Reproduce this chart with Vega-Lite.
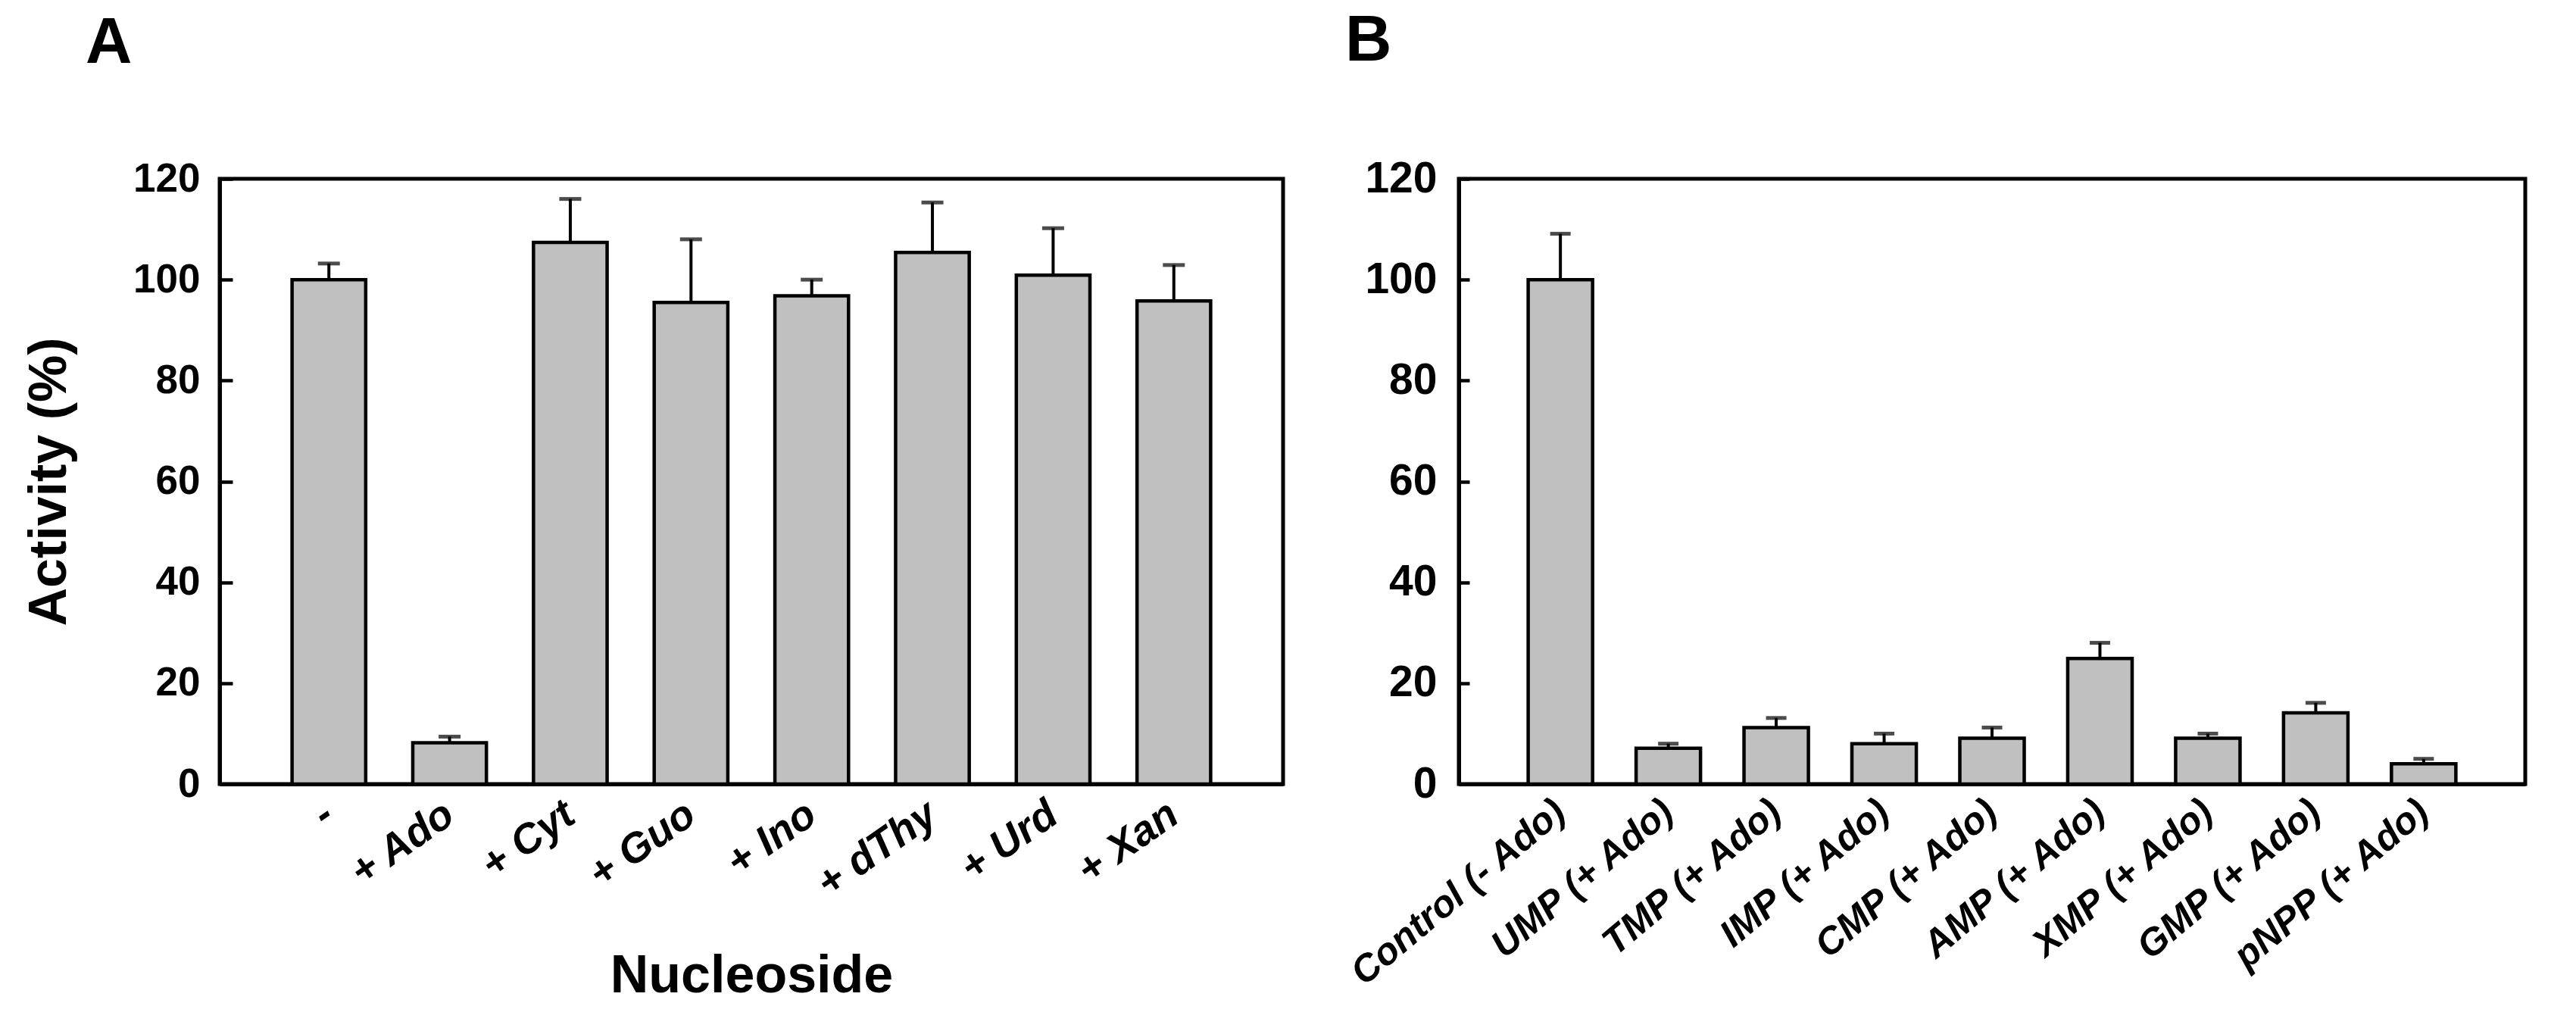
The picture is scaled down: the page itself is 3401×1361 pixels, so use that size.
{
  "$schema": "https://vega.github.io/schema/vega-lite/v6.json",
  "background": "white",
  "padding": {"left": 28, "top": 9, "right": 5, "bottom": 5},
  "bounds": "flush",
  "spacing": 232,
  "datasets": {
    "panelA": [
      {"treatment": "-", "activity": 100.0, "upper": 103.2},
      {"treatment": "+ Ado", "activity": 8.2, "upper": 9.4},
      {"treatment": "+ Cyt", "activity": 107.4, "upper": 116.0},
      {"treatment": "+ Guo", "activity": 95.5, "upper": 108.0},
      {"treatment": "+ Ino", "activity": 96.8, "upper": 100.0},
      {"treatment": "+ dThy", "activity": 105.4, "upper": 115.3},
      {"treatment": "+ Urd", "activity": 100.9, "upper": 110.2},
      {"treatment": "+ Xan", "activity": 95.8, "upper": 102.9}
    ],
    "panelB": [
      {"treatment": "Control (- Ado)", "activity": 100.0, "upper": 109.1},
      {"treatment": "UMP (+ Ado)", "activity": 7.1, "upper": 8.0},
      {"treatment": "TMP (+ Ado)", "activity": 11.2, "upper": 13.1},
      {"treatment": "IMP (+ Ado)", "activity": 8.0, "upper": 10.0},
      {"treatment": "CMP (+ Ado)", "activity": 9.1, "upper": 11.2},
      {"treatment": "AMP (+ Ado)", "activity": 24.9, "upper": 28.0},
      {"treatment": "XMP (+ Ado)", "activity": 9.1, "upper": 10.0},
      {"treatment": "GMP (+ Ado)", "activity": 14.1, "upper": 16.1},
      {"treatment": "pNPP (+ Ado)", "activity": 4.0, "upper": 5.0}
    ]
  },
  "hconcat": [
    {
      "width": 1404,
      "height": 799,
      "data": {"name": "panelA"},
      "title": {"text": "A", "anchor": "start", "frame": "group", "dx": -177, "offset": 42, "baseline": "alphabetic", "fontSize": 85, "fontWeight": "bold", "font": "Liberation Sans", "color": "black"},
      "encoding": {
        "x": {
          "field": "treatment", "type": "nominal", "sort": null,
          "scale": {"paddingInner": 0.39, "paddingOuter": 0.6},
          "axis": {"title": "Nucleoside", "titleFontSize": 70, "titleFontWeight": "bold", "titlePadding": 60,
                   "labelAngle": -35, "labelAlign": "right", "labelBaseline": "middle", "labelFontSize": 55,
                   "labelFontWeight": "bold", "labelFontStyle": "italic", "labelPadding": 34, "labelLimit": 1000, "ticks": false}
        }
      },
      "layer": [
        {
          "mark": {"type": "bar", "fill": "#C0C0C0", "stroke": "black", "strokeWidth": 4.5},
          "encoding": {
            "y": {"field": "activity", "type": "quantitative",
                  "scale": {"domain": [0, 120], "nice": false},
                  "axis": {"title": "Activity (%)", "titleFontSize": 70, "titleFontWeight": "bold", "titlePadding": 74,
                           "values": [0, 20, 40, 60, 80, 100, 120], "labelFontSize": 53, "labelFontWeight": "bold",
                           "tickSize": -17, "labelPadding": 43, "grid": false}}
          }
        },
        {
          "mark": {"type": "rule", "color": "black", "strokeWidth": 4},
          "encoding": {"y": {"field": "activity", "type": "quantitative"}, "y2": {"field": "upper"}}
        },
        {
          "mark": {"type": "tick", "color": "black", "size": 29, "thickness": 5},
          "encoding": {"y": {"field": "upper", "type": "quantitative"}}
        }
      ]
    },
    {
      "width": 1408,
      "height": 799,
      "data": {"name": "panelB"},
      "title": {"text": "B", "anchor": "start", "frame": "group", "dx": -150, "offset": 42, "baseline": "alphabetic", "fontSize": 85, "fontWeight": "bold", "font": "Liberation Sans", "color": "black"},
      "encoding": {
        "x": {
          "field": "treatment", "type": "nominal", "sort": null,
          "scale": {"paddingInner": 0.403, "paddingOuter": 0.643},
          "axis": {"title": null, "labelAngle": -40, "labelAlign": "right", "labelBaseline": "middle", "labelFontSize": 50,
                   "labelFontWeight": "bold", "labelFontStyle": "italic", "labelPadding": 30, "labelLimit": 1000, "ticks": false}
        }
      },
      "layer": [
        {
          "mark": {"type": "bar", "fill": "#C0C0C0", "stroke": "black", "strokeWidth": 4.5},
          "encoding": {
            "y": {"field": "activity", "type": "quantitative",
                  "scale": {"domain": [0, 120], "nice": false},
                  "axis": {"title": null, "values": [0, 20, 40, 60, 80, 100, 120], "labelFontSize": 57, "labelFontWeight": "bold",
                           "tickSize": -14, "labelPadding": 43, "grid": false}}
          }
        },
        {
          "mark": {"type": "rule", "color": "black", "strokeWidth": 4},
          "encoding": {"y": {"field": "activity", "type": "quantitative"}, "y2": {"field": "upper"}}
        },
        {
          "mark": {"type": "tick", "color": "black", "size": 27, "thickness": 5},
          "encoding": {"y": {"field": "upper", "type": "quantitative"}}
        }
      ]
    }
  ],
  "config": {
    "font": "Liberation Sans",
    "view": {"stroke": "black", "strokeWidth": 5},
    "axis": {"domainColor": "black", "domainWidth": 5, "tickColor": "black", "tickWidth": 4.5, "labelColor": "black", "titleColor": "black", "labelFont": "Liberation Sans", "titleFont": "Liberation Sans"},
    "title": {"font": "Liberation Sans"}
  }
}
